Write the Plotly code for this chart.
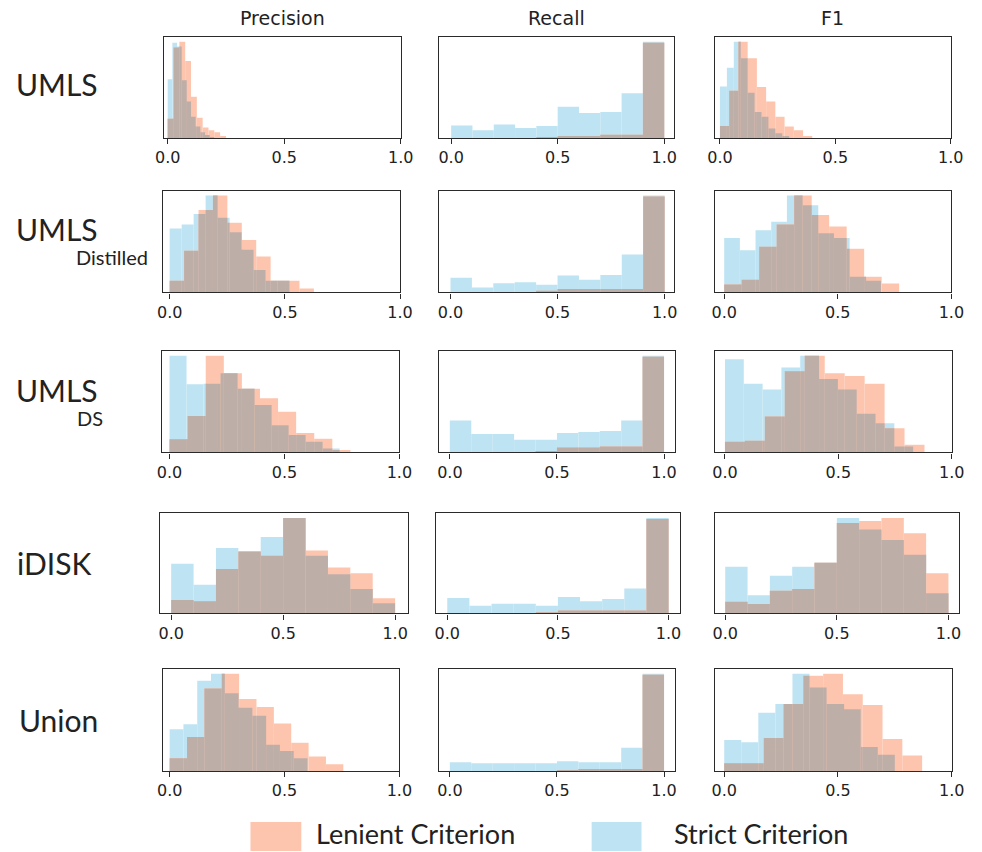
import plotly.graph_objects as go

W, H = 982, 852

# ---------------- data (relative histogram heights, 10 bins per series) ----------------
ROW_NAMES = ["UMLS", "UMLS", "UMLS", "iDISK", "Union"]
ROW_SUBS = ["", "Distilled", "DS", "", ""]
COL_NAMES = ["Precision", "Recall", "F1"]
TICK_VALS = [0.0, 0.5, 1.0]
TICK_TEXT = ["0.0", "0.5", "1.0"]
LEGEND_LABELS = ["Lenient Criterion", "Strict Criterion"]

# UMLS
UMLS_P_STRICT_RANGE = (0.0, 0.20)
UMLS_P_STRICT = [61, 99, 95, 60, 38, 22, 12, 6, 3, 1]
UMLS_P_LENIENT_RANGE = (0.0, 0.25)
UMLS_P_LENIENT = [20, 94, 100, 80, 43, 21, 11, 8, 6, 2]
UMLS_R_STRICT_RANGE = (0.0, 1.0)
UMLS_R_STRICT = [13, 8, 14, 10.5, 12.5, 32.5, 26, 27, 46.5, 100]
UMLS_R_LENIENT_RANGE = (0.0, 1.0)
UMLS_R_LENIENT = [0, 0, 0, 0, 1, 2, 2, 3.5, 3.5, 99]
UMLS_F_STRICT_RANGE = (0.0, 0.30)
UMLS_F_STRICT = [53.5, 73, 100, 83, 47, 27, 22, 10, 5, 2]
UMLS_F_LENIENT_RANGE = (0.0, 0.40)
UMLS_F_LENIENT = [12.5, 49, 100, 83, 53, 38, 22, 12, 8, 2]

# UMLS Distilled
DIST_P_STRICT_RANGE = (0.0, 0.52)
DIST_P_STRICT = [66, 70, 81, 100, 77, 62, 44, 23, 12, 12]
DIST_P_LENIENT_RANGE = (0.0, 0.626)
DIST_P_LENIENT = [12, 43, 85, 100, 72, 54, 37, 12, 12, 4]
DIST_R_STRICT_RANGE = (0.0, 1.0)
DIST_R_STRICT = [15, 5, 9.4, 10.5, 7.7, 17.4, 13, 18, 39, 100]
DIST_R_LENIENT_RANGE = (0.0, 1.0)
DIST_R_LENIENT = [0, 0, 0, 0, 0.7, 3.5, 3.5, 3.5, 3.5, 99]
DIST_F_STRICT_RANGE = (0.0, 0.69)
DIST_F_STRICT = [56, 43.5, 64, 73, 100, 90, 61, 56, 16, 12]
DIST_F_LENIENT_RANGE = (0.0, 0.77)
DIST_F_LENIENT = [8, 13, 47, 70, 100, 80, 68, 45, 16, 9]

# UMLS DS
DS_P_STRICT_RANGE = (0.0, 0.74)
DS_P_STRICT = [100, 70.6, 71, 82, 66, 49, 28, 18, 11, 4]
DS_P_LENIENT_RANGE = (0.0, 0.787)
DS_P_LENIENT = [13.5, 37.7, 100, 82, 66, 56, 42, 20, 14, 2.4]
DS_R_STRICT_RANGE = (0.0, 1.0)
DS_R_STRICT = [33, 19, 19, 13, 13, 20, 21, 22, 33, 100]
DS_R_LENIENT_RANGE = (0.0, 1.0)
DS_R_LENIENT = [0, 0, 0, 0, 1, 5, 5, 6, 6, 99]
DS_F_STRICT_RANGE = (0.0, 0.83)
DS_F_STRICT = [96.5, 71, 65, 88, 100, 76, 65, 40, 30, 6]
DS_F_LENIENT_RANGE = (0.0, 0.88)
DS_F_LENIENT = [11, 12, 37, 84, 100, 82, 79, 71, 25, 7.7]

# iDISK
IDISK_P_STRICT_RANGE = (0.0, 1.0)
IDISK_P_STRICT = [52, 30, 68.5, 65, 80, 100, 60.5, 41, 25.5, 10.5]
IDISK_P_LENIENT_RANGE = (0.0, 1.0)
IDISK_P_LENIENT = [14, 12.6, 46.5, 65, 60.5, 100, 66, 48, 42, 15.7]
IDISK_R_STRICT_RANGE = (0.0, 1.0)
IDISK_R_STRICT = [16, 8, 10, 10, 8, 17, 12.6, 15, 26, 100]
IDISK_R_LENIENT_RANGE = (0.0, 1.0)
IDISK_R_LENIENT = [0, 0, 0, 0, 1, 3, 3, 3, 3, 99]
IDISK_F_STRICT_RANGE = (0.0, 1.0)
IDISK_F_STRICT = [49, 19, 39.5, 49, 53, 100, 88, 77, 61.5, 21]
IDISK_F_LENIENT_RANGE = (0.0, 1.0)
IDISK_F_LENIENT = [12.2, 9.8, 23.8, 25.5, 53, 94.8, 97, 100, 84, 42]

# Union
UNION_P_STRICT_RANGE = (0.0, 0.60)
UNION_P_STRICT = [43, 48, 93, 100, 80, 65, 57, 27, 20.5, 13]
UNION_P_LENIENT_RANGE = (0.0, 0.756)
UNION_P_LENIENT = [13, 35, 85, 100, 74, 66, 49, 29, 15, 7]
UNION_R_STRICT_RANGE = (0.0, 1.0)
UNION_R_STRICT = [9, 8, 8, 8, 8, 10, 9, 9, 24, 100]
UNION_R_LENIENT_RANGE = (0.0, 1.0)
UNION_R_LENIENT = [0, 0, 0, 0, 0, 1, 2, 2, 2, 99]
UNION_F_STRICT_RANGE = (0.0, 0.75)
UNION_F_STRICT = [32, 29.5, 60, 69, 100, 86, 69, 63.5, 24.6, 16.7]
UNION_F_LENIENT_RANGE = (0.0, 0.87)
UNION_F_LENIENT = [8, 8, 34, 69, 98, 100, 79, 68, 33, 16]

PANEL_DATA = [
    [(UMLS_P_STRICT_RANGE, UMLS_P_STRICT, UMLS_P_LENIENT_RANGE, UMLS_P_LENIENT),
     (UMLS_R_STRICT_RANGE, UMLS_R_STRICT, UMLS_R_LENIENT_RANGE, UMLS_R_LENIENT),
     (UMLS_F_STRICT_RANGE, UMLS_F_STRICT, UMLS_F_LENIENT_RANGE, UMLS_F_LENIENT)],
    [(DIST_P_STRICT_RANGE, DIST_P_STRICT, DIST_P_LENIENT_RANGE, DIST_P_LENIENT),
     (DIST_R_STRICT_RANGE, DIST_R_STRICT, DIST_R_LENIENT_RANGE, DIST_R_LENIENT),
     (DIST_F_STRICT_RANGE, DIST_F_STRICT, DIST_F_LENIENT_RANGE, DIST_F_LENIENT)],
    [(DS_P_STRICT_RANGE, DS_P_STRICT, DS_P_LENIENT_RANGE, DS_P_LENIENT),
     (DS_R_STRICT_RANGE, DS_R_STRICT, DS_R_LENIENT_RANGE, DS_R_LENIENT),
     (DS_F_STRICT_RANGE, DS_F_STRICT, DS_F_LENIENT_RANGE, DS_F_LENIENT)],
    [(IDISK_P_STRICT_RANGE, IDISK_P_STRICT, IDISK_P_LENIENT_RANGE, IDISK_P_LENIENT),
     (IDISK_R_STRICT_RANGE, IDISK_R_STRICT, IDISK_R_LENIENT_RANGE, IDISK_R_LENIENT),
     (IDISK_F_STRICT_RANGE, IDISK_F_STRICT, IDISK_F_LENIENT_RANGE, IDISK_F_LENIENT)],
    [(UNION_P_STRICT_RANGE, UNION_P_STRICT, UNION_P_LENIENT_RANGE, UNION_P_LENIENT),
     (UNION_R_STRICT_RANGE, UNION_R_STRICT, UNION_R_LENIENT_RANGE, UNION_R_LENIENT),
     (UNION_F_STRICT_RANGE, UNION_F_STRICT, UNION_F_LENIENT_RANGE, UNION_F_LENIENT)],
]

# ---------------- layout (pixel boxes and axis ranges) ----------------
ROW_Y = [(37, 138), (190.7, 292.3), (351, 452.3), (513.3, 613.3), (669, 771)]
COL_X = [
    [(158.3, 400.7), (440.3, 680.7), (722.3, 963.3)],
    [(157.3, 400.0), (440.0, 680.7), (722.3, 964.0)],
    [(156.7, 399.3), (440.0, 681.0), (721.7, 964.3)],
    [(154.0, 408.0), (437.0, 686.0), (721.7, 971.7)],
    [(157.3, 399.3), (440.0, 681.0), (722.3, 964.3)],
]
X_RANGES = [
    [(-0.017, 1.0), (-0.055, 1.048), (-0.021, 1.0)],
    [(-0.030, 1.0), (-0.053, 1.046), (-0.040, 1.0)],
    [(-0.032, 1.0), (-0.050, 1.050), (-0.046, 1.0)],
    [(-0.052, 1.057), (-0.050, 1.050), (-0.048, 1.047)],
    [(-0.030, 1.0), (-0.050, 1.050), (-0.040, 1.0)],
]

LENIENT_COLOR = "rgb(253,197,174)"
STRICT_COLOR = "rgb(190,227,242)"
OVERLAP_COLOR = "rgb(190,174,168)"
AXIS_COLOR = "#2a2a2a"
TEXT_COLOR = "#222222"
TICK_FONT = dict(family="DejaVu Sans", size=16, color=TEXT_COLOR)
LABEL_FONT = "Lato"


def edges_of(rng, n):
    lo, hi = rng
    w = (hi - lo) / n
    return [lo + i * w for i in range(n + 1)]


def height_at(rng, heights, x):
    lo, hi = rng
    n = len(heights)
    w = (hi - lo) / n
    if x < lo or x > hi:
        return 0.0
    i = min(int((x - lo) / w), n - 1)
    return heights[i]


def bar_trace(xs, ws, ys, color, ax):
    return go.Bar(x=xs, y=ys, width=ws, marker=dict(color=color, line=dict(width=0)),
                  xaxis="x" + ax, yaxis="y" + ax, showlegend=False, hoverinfo="skip")


fig = go.Figure()
layout = dict(
    width=W, height=H, margin=dict(l=0, r=0, t=0, b=0),
    paper_bgcolor="white", plot_bgcolor="white", barmode="overlay",
    showlegend=False,
)

k = 0
for r in range(5):
    for c in range(3):
        k += 1
        ax = "" if k == 1 else str(k)
        s_rng, s_h, l_rng, l_h = PANEL_DATA[r][c]
        s_e = edges_of(s_rng, len(s_h))
        l_e = edges_of(l_rng, len(l_h))
        fig.add_trace(bar_trace([(s_e[i] + s_e[i + 1]) / 2 for i in range(len(s_h))],
                                [s_e[i + 1] - s_e[i] for i in range(len(s_h))],
                                s_h, STRICT_COLOR, ax))
        fig.add_trace(bar_trace([(l_e[i] + l_e[i + 1]) / 2 for i in range(len(l_h))],
                                [l_e[i + 1] - l_e[i] for i in range(len(l_h))],
                                l_h, LENIENT_COLOR, ax))
        all_e = sorted(set([round(e, 9) for e in s_e + l_e]))
        ox, ow, oy = [], [], []
        for a, b in zip(all_e[:-1], all_e[1:]):
            if b - a < 1e-9:
                continue
            m = (a + b) / 2
            h = min(height_at(s_rng, s_h, m), height_at(l_rng, l_h, m))
            if h > 0:
                ox.append(m); ow.append(b - a); oy.append(h)
        fig.add_trace(bar_trace(ox, ow, oy, OVERLAP_COLOR, ax))

        ymax = 1.05 * max(max(s_h), max(l_h))
        x0, x1 = COL_X[r][c]
        y0, y1 = ROW_Y[r]
        layout["xaxis" + ax] = dict(
            domain=[x0 / W, x1 / W], range=list(X_RANGES[r][c]), anchor="y" + ax,
            tickvals=TICK_VALS, ticktext=TICK_TEXT, ticks="outside", ticklen=5,
            tickwidth=1.2, tickcolor=AXIS_COLOR, showline=True, mirror=True,
            linecolor=AXIS_COLOR, linewidth=1.4, showgrid=False, zeroline=False,
            tickfont=TICK_FONT, fixedrange=True,
        )
        layout["yaxis" + ax] = dict(
            domain=[1 - y1 / H, 1 - y0 / H], range=[0, ymax], anchor="x" + ax,
            showticklabels=False, ticks="", showline=True, mirror=True,
            linecolor=AXIS_COLOR, linewidth=1.4, showgrid=False, zeroline=False,
            fixedrange=True,
        )

annotations = []
shapes = []


def px_ann(text, x, y, size, family, xanchor="left", color=TEXT_COLOR):
    annotations.append(dict(text=text, x=x / W, y=1 - y / H, xref="paper", yref="paper",
                            xanchor=xanchor, yanchor="middle", showarrow=False,
                            font=dict(family=family, size=size, color=color)))


for c, name in enumerate(COL_NAMES):
    x0, x1 = COL_X[0][c]
    px_ann(name, (x0 + x1) / 2, 18, 19, "DejaVu Sans", xanchor="center")

ROW_LABEL_POS = [(5, 84), (5, 229), (5, 390), (6, 563), (8, 720)]
ROW_SUB_POS = [None, (67, 257), (68, 418), None, None]
for r in range(5):
    x, y = ROW_LABEL_POS[r]
    px_ann(ROW_NAMES[r], x, y, 30, LABEL_FONT)
    if ROW_SUBS[r]:
        sx, sy = ROW_SUB_POS[r]
        px_ann(ROW_SUBS[r], sx, sy, 20, LABEL_FONT)

LEG_SWATCH = [(247, 299), (596, 647)]
LEG_TEXT_X = [312, 678]
LEG_COLORS = [LENIENT_COLOR, STRICT_COLOR]
for i in range(2):
    sx0, sx1 = LEG_SWATCH[i]
    shapes.append(dict(type="rect", xref="paper", yref="paper",
                       x0=sx0 / W, x1=sx1 / W, y0=1 - 851 / H, y1=1 - 822 / H,
                       fillcolor=LEG_COLORS[i], line=dict(width=0)))
    px_ann(LEGEND_LABELS[i], LEG_TEXT_X[i], 833, 27, LABEL_FONT)

layout["annotations"] = annotations
layout["shapes"] = shapes
fig.update_layout(**layout)

fig.write_html(
    "out.html",
    config={"responsive": False, "displayModeBar": False},
    post_script="document.body.style.margin='0';document.body.style.overflow='hidden';"
                "document.documentElement.style.overflow='hidden';",
)
